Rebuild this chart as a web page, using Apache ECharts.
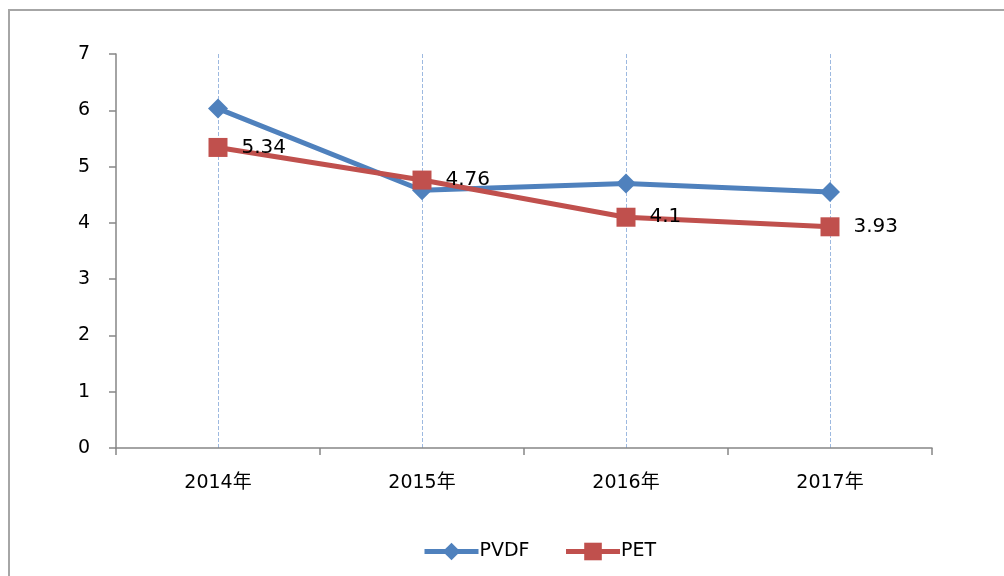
<!DOCTYPE html>
<html>
<head>
<meta charset="utf-8">
<script src="https://cdn.jsdelivr.net/npm/echarts@6/dist/echarts.min.js"></script>
<style>
  html, body { margin: 0; padding: 0; background: #fff; }
  #chart { width: 1004px; height: 576px; }
</style>
</head>
<body>
<div id="chart"></div>
<script>
// 数据
const years = ['2014年', '2015年', '2016年', '2017年'];
const pvdf = [6.03, 4.58, 4.7, 4.55];
const pet = [5.34, 4.76, 4.1, 3.93];
const yTicks = [0, 1, 2, 3, 4, 5, 6, 7];

const chart = echarts.init(document.getElementById('chart'));
const font = '"DejaVu Sans", "Noto Sans CJK SC", sans-serif';

chart.setOption({
  animation: false,
  textStyle: { fontFamily: font },
  graphic: [{
    type: 'rect',
    shape: { x: 9, y: 10, width: 1100, height: 700 },
    style: { fill: 'none', stroke: '#a6a6a6', lineWidth: 2 },
    silent: true,
  }],
  grid: { left: 116, right: 72, top: 54, bottom: 128 },
  legend: {
    data: ['PVDF', 'PET'],
    left: 417,
    top: 537,
    itemWidth: 54,
    itemHeight: 22,
    itemGap: 34,
    lineStyle: { width: 5 },
    textStyle: { fontSize: 19, color: '#000', fontFamily: font, padding: [0, 0, 0, -4] },
  },
  xAxis: {
    type: 'category',
    data: years,
    boundaryGap: true,
    axisLine: { lineStyle: { color: '#868686', width: 1.5 } },
    axisTick: { show: true, length: 7, lineStyle: { color: '#868686', width: 1.5 } },
    axisLabel: { fontSize: 19, color: '#000', margin: 26, fontFamily: font },
    splitLine: {
      show: true,
      alignWithLabel: true,
      lineStyle: { color: '#9db9e0', type: 'dashed', width: 1 },
    },
  },
  yAxis: {
    type: 'value',
    min: yTicks[0],
    max: yTicks[yTicks.length - 1],
    interval: 1,
    axisLine: { show: true, lineStyle: { color: '#868686', width: 1.5 } },
    axisTick: { show: true, length: 7, lineStyle: { color: '#868686', width: 1.5 } },
    axisLabel: { fontSize: 19, color: '#000', margin: 26, fontFamily: font },
    splitLine: { show: false },
  },
  series: [
    {
      name: 'PVDF',
      type: 'line',
      data: pvdf,
      symbol: 'diamond',
      symbolSize: 20,
      lineStyle: { color: '#4f81bd', width: 5 },
      itemStyle: { color: '#4f81bd' },
      z: 2,
    },
    {
      name: 'PET',
      type: 'line',
      data: pet,
      symbol: 'rect',
      symbolSize: 19,
      lineStyle: { color: '#c0504d', width: 5 },
      itemStyle: { color: '#c0504d' },
      label: {
        show: true,
        position: 'right',
        distance: 14,
        fontSize: 20,
        color: '#000',
        fontFamily: font,
      },
      z: 3,
    },
  ],
});
</script>
</body>
</html>
